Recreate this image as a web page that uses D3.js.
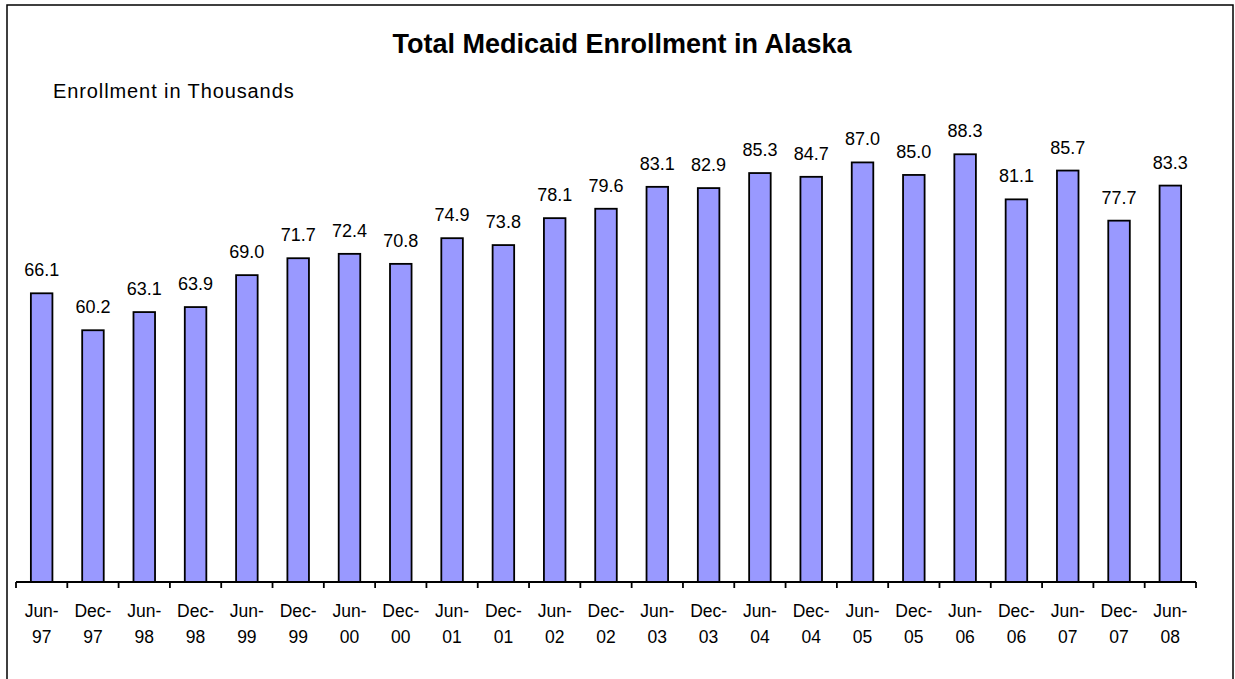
<!DOCTYPE html>
<html>
<head>
<meta charset="utf-8">
<script src="https://cdn.jsdelivr.net/npm/d3@7"></script>
<style>
  body { margin: 0; background: #fff; }
  text { font-family: "Liberation Sans", Arial, sans-serif; fill: #000; }
</style>
</head>
<body>
<div id="chart"></div>
<script>
// data
var months = ['Jun-', 'Dec-', 'Jun-', 'Dec-', 'Jun-', 'Dec-', 'Jun-', 'Dec-', 'Jun-', 'Dec-', 'Jun-', 'Dec-',
              'Jun-', 'Dec-', 'Jun-', 'Dec-', 'Jun-', 'Dec-', 'Jun-', 'Dec-', 'Jun-', 'Dec-', 'Jun-'];
var years = ['97', '97', '98', '98', '99', '99', '00', '00', '01', '01', '02', '02',
             '03', '03', '04', '04', '05', '05', '06', '06', '07', '07', '08'];
var enrollment = [66.1, 60.2, 63.1, 63.9, 69.0, 71.7, 72.4, 70.8, 74.9, 73.8, 78.1, 79.6,
                  83.1, 82.9, 85.3, 84.7, 87.0, 85.0, 88.3, 81.1, 85.7, 77.7, 83.3];

var chart_width = 1235;
var chart_height = 679;

var svg = d3.select('#chart')
            .append('svg')
            .attr('width', chart_width)
            .attr('height', chart_height);

// outer frame
svg.append('rect')
   .attr('x', 7)
   .attr('y', 5)
   .attr('width', 1226)
   .attr('height', 700)
   .attr('fill', 'none')
   .attr('stroke', '#000')
   .attr('stroke-width', 1.5);

svg.append('text')
   .attr('x', 622)
   .attr('y', 53)
   .attr('text-anchor', 'middle')
   .style('font-size', '27px')
   .style('font-weight', 'bold')
   .text('Total Medicaid Enrollment in Alaska');

svg.append('text')
   .attr('x', 53)
   .attr('y', 98)
   .style('font-size', '20px')
   .style('letter-spacing', '0.9px')
   .text('Enrollment in Thousands');

var keys = d3.range(enrollment.length);

var x = d3.scaleBand()
          .domain(keys)
          .range([16, 1196])
          .paddingInner(0.58)
          .paddingOuter(0.29);

var y = d3.scaleLinear()
          .domain([20, 100])
          .range([582, 81]);

// bars
svg.selectAll('rect.bar')
   .data(enrollment)
   .enter()
   .append('rect')
   .attr('class', 'bar')
   .attr('x', function(d, i){ return x(i); })
   .attr('y', function(d){ return y(d); })
   .attr('width', x.bandwidth())
   .attr('height', function(d){ return y(20) - y(d); })
   .attr('fill', '#9999ff')
   .attr('stroke', '#000')
   .attr('stroke-width', 1.8);

// value labels
svg.selectAll('text.val')
   .data(enrollment)
   .enter()
   .append('text')
   .attr('class', 'val')
   .attr('x', function(d, i){ return x(i) + x.bandwidth() / 2; })
   .attr('y', function(d){ return y(d) - 17; })
   .attr('text-anchor', 'middle')
   .style('font-size', '18px')
   .text(function(d){ return d.toFixed(1); });

// x axis line and ticks between categories
var tick_pos = d3.range(enrollment.length + 1).map(function(i){ return 16 + i * (1180 / enrollment.length); });

svg.append('line')
   .attr('x1', 16)
   .attr('x2', 1196)
   .attr('y1', y(20))
   .attr('y2', y(20))
   .attr('stroke', '#000')
   .attr('stroke-width', 1.8);

svg.selectAll('line.tick')
   .data(tick_pos)
   .enter()
   .append('line')
   .attr('class', 'tick')
   .attr('x1', function(d){ return d; })
   .attr('x2', function(d){ return d; })
   .attr('y1', y(20))
   .attr('y2', y(20) + 6)
   .attr('stroke', '#000')
   .attr('stroke-width', 1.8);

// category labels, two lines
var lab = svg.selectAll('text.cat')
   .data(keys)
   .enter()
   .append('text')
   .attr('class', 'cat')
   .attr('text-anchor', 'middle')
   .style('font-size', '17.5px');

lab.append('tspan')
   .attr('x', function(d){ return x(d) + x.bandwidth() / 2; })
   .attr('y', 617)
   .text(function(d){ return months[d]; });

lab.append('tspan')
   .attr('x', function(d){ return x(d) + x.bandwidth() / 2; })
   .attr('y', 643)
   .text(function(d){ return years[d]; });
</script>
</body>
</html>
